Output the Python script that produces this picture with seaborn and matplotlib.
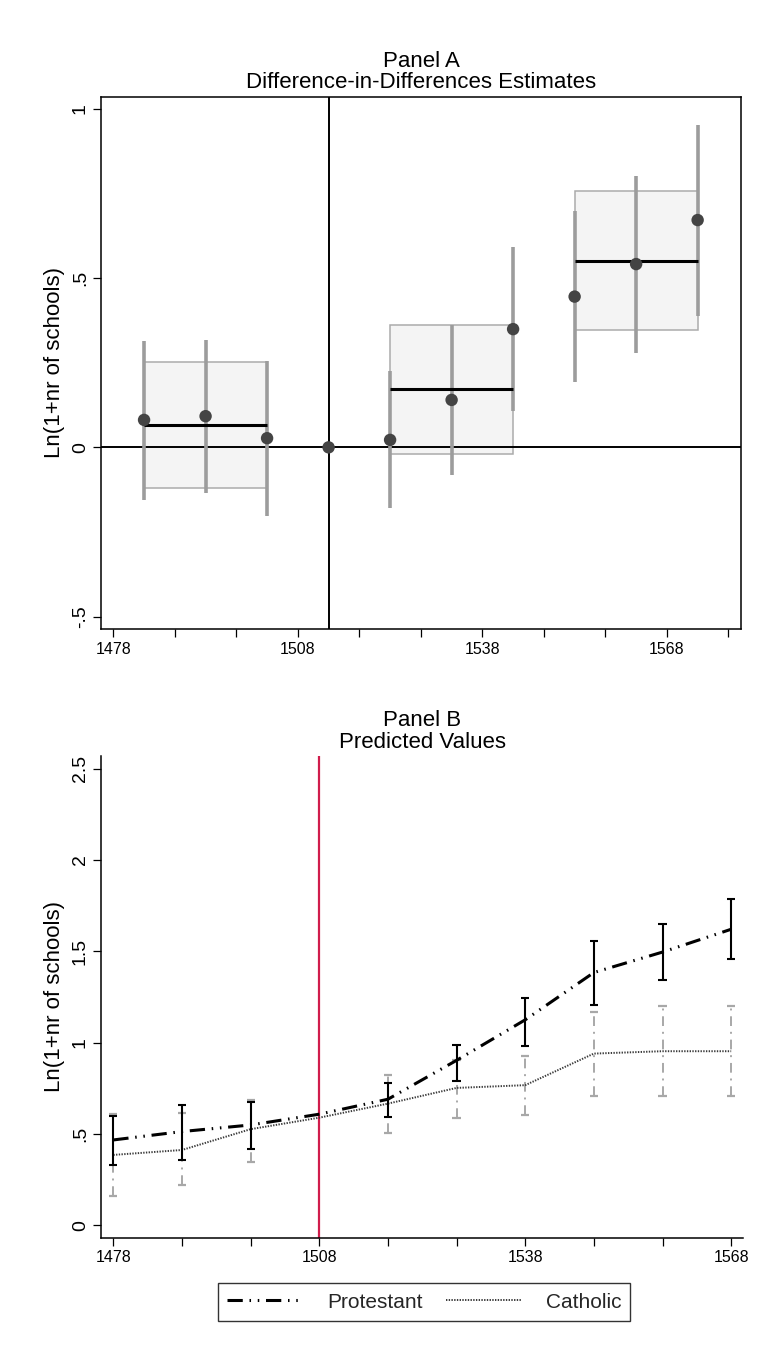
import numpy as np
import pandas as pd
import matplotlib
matplotlib.use("Agg")
import matplotlib.pyplot as plt
import seaborn as sns
from matplotlib.lines import Line2D
from matplotlib.patches import Rectangle

sns.set_theme(style="white")
plt.rcParams['font.family'] = ['Liberation Sans', 'DejaVu Sans']

# ---------------- Panel A data ----------------
yearsA = [1483, 1493, 1503, 1513, 1523, 1533, 1543, 1553, 1563, 1573]
coefA = [0.081, 0.092, 0.027, 0.0, 0.022, 0.140, 0.349, 0.445, 0.541, 0.671]
ciA_lo = [-0.156, -0.134, -0.203, np.nan, -0.180, -0.082, 0.108, 0.192, 0.279, 0.389]
ciA_hi = [0.314, 0.317, 0.256, np.nan, 0.225, 0.361, 0.592, 0.698, 0.801, 0.951]
grp_start = [1483, 1523, 1553]
grp_end = [1503, 1543, 1573]
grp_mean = [0.066, 0.171, 0.550]
grp_lo = [-0.119, -0.020, 0.346]
grp_hi = [0.251, 0.360, 0.758]
ref_year_A = 1513

# ---------------- Panel B data ----------------
yearsB = [1478, 1488, 1498, 1508, 1518, 1528, 1538, 1548, 1558, 1568]
prot = [0.467, 0.513, 0.549, 0.608, 0.690, 0.903, 1.125, 1.384, 1.496, 1.621]
prot_lo = [0.330, 0.358, 0.418, np.nan, 0.595, 0.791, 0.983, 1.205, 1.341, 1.457]
prot_hi = [0.599, 0.660, 0.674, np.nan, 0.781, 0.989, 1.246, 1.556, 1.651, 1.789]
cath = [0.385, 0.412, 0.526, 0.589, 0.666, 0.752, 0.767, 0.940, 0.953, 0.953]
cath_lo = [0.159, 0.220, 0.348, np.nan, 0.507, 0.586, 0.606, 0.705, 0.705, 0.705]
cath_hi = [0.608, 0.613, 0.686, np.nan, 0.821, 0.903, 0.929, 1.168, 1.203, 1.203]
ref_year_B = 1508

xtick_labels = [1478, 1508, 1538, 1568]

fig = plt.figure(figsize=(7.67, 13.57), dpi=100)
fig.patch.set_facecolor('white')

XTICK_FS = 11.5
YTICK_FS = 14
LAB_FS = 16
TITLE_FS = 16

def style_axes(ax):
    ax.tick_params(axis='both', which='both', direction='out', length=6, width=0.9,
                   color='black', labelcolor='black', pad=3, bottom=True, left=True)
    ax.tick_params(axis='x', labelsize=XTICK_FS)
    ax.tick_params(axis='y', labelsize=YTICK_FS)
    for lab in ax.get_yticklabels():
        lab.set_rotation(90)
        lab.set_va('center')

# ---------------- Panel A ----------------
axA = fig.add_axes([0.1321, 0.5363, 0.8336, 0.3924])
axA.set_facecolor('white')
for k in range(len(grp_start)):
    axA.add_patch(Rectangle((grp_start[k], grp_lo[k]), grp_end[k] - grp_start[k],
                            grp_hi[k] - grp_lo[k], facecolor='#f4f4f4',
                            edgecolor='#ababab', lw=1.1, zorder=1))
axA.axhline(0, color='black', lw=1.4, zorder=2)
axA.axvline(ref_year_A, color='black', lw=1.4, zorder=2)
for k in range(len(grp_start)):
    axA.plot([grp_start[k], grp_end[k]], [grp_mean[k], grp_mean[k]],
             color='black', lw=2.2, zorder=4, solid_capstyle='butt')
axA.vlines(yearsA, ciA_lo, ciA_hi, color='#9c9c9c', lw=2.6, zorder=3)
dfA = pd.DataFrame({'year': yearsA, 'coef': coefA})
sns.scatterplot(data=dfA, x='year', y='coef', ax=axA, color='#444444', s=80,
                edgecolor='none', zorder=5, legend=False)
axA.set_xlim(1476.05, 1580.0)
axA.set_ylim(-0.537, 1.035)
axA.set_xticks(xtick_labels)
axA.set_xticklabels([str(v) for v in xtick_labels])
axA.set_xticks(np.arange(1488, 1580, 10), minor=True)
axA.set_yticks([-0.5, 0, 0.5, 1])
axA.set_yticklabels(['-.5', '0', '.5', '1'])
axA.set_xlabel('')
axA.set_ylabel('Ln(1+nr of schools)', fontsize=LAB_FS, color='black', labelpad=5)
axA.set_title('Panel A\nDifference-in-Differences Estimates', fontsize=TITLE_FS,
              color='black', pad=6, linespacing=1.05)
for sp in axA.spines.values():
    sp.set_visible(True)
    sp.set_color('black')
    sp.set_linewidth(1.1)
style_axes(axA)

# ---------------- Panel B ----------------
axB = fig.add_axes([0.1321, 0.0877, 0.8364, 0.3552])
axB.set_facecolor('white')
axB.axvline(ref_year_B, color='#d01c4b', lw=1.6, zorder=1)
dfB = pd.DataFrame({'year': yearsB * 2,
                    'value': prot + cath,
                    'group': ['Protestant'] * len(yearsB) + ['Catholic'] * len(yearsB)})
sns.lineplot(data=dfB[dfB.group == 'Catholic'], x='year', y='value', ax=axB,
             color='#3a3a3a', lw=1.4, legend=False, zorder=3)
sns.lineplot(data=dfB[dfB.group == 'Protestant'], x='year', y='value', ax=axB,
             color='black', lw=2.2, legend=False, zorder=4)
cath_line, prot_line = axB.lines[-2], axB.lines[-1]
cath_line.set_dashes((0.7, 0.7))
prot_line.set_dashes((5.0, 2.2, 0.5, 2.2, 0.5, 2.2))

yB = np.array(yearsB, dtype=float)
cl, ch = np.array(cath_lo), np.array(cath_hi)
pl, ph = np.array(prot_lo), np.array(prot_hi)
axB.vlines(yB, cl, ch, color='#a8a8a8', lw=1.4, linestyles=[(0, (5, 3, 1, 3))], zorder=2)
cw = 0.6
axB.hlines(cl, yB - cw, yB + cw, color='#a8a8a8', lw=1.6, zorder=2)
axB.hlines(ch, yB - cw, yB + cw, color='#a8a8a8', lw=1.6, zorder=2)
axB.vlines(yB, pl, ph, color='black', lw=1.5, zorder=5)
axB.hlines(pl, yB - cw, yB + cw, color='black', lw=1.5, zorder=5)
axB.hlines(ph, yB - cw, yB + cw, color='black', lw=1.5, zorder=5)

axB.set_xlim(1476.25, 1569.7)
axB.set_ylim(-0.07, 2.57)
axB.set_xticks(xtick_labels)
axB.set_xticklabels([str(v) for v in xtick_labels])
axB.set_xticks(np.arange(1488, 1570, 10), minor=True)
axB.set_yticks([0, 0.5, 1, 1.5, 2, 2.5])
axB.set_yticklabels(['0', '.5', '1', '1.5', '2', '2.5'])
axB.set_xlabel('')
axB.set_ylabel('Ln(1+nr of schools)', fontsize=LAB_FS, color='black', labelpad=5)
axB.set_title('Panel B\nPredicted Values', fontsize=TITLE_FS, color='black', pad=6,
              linespacing=1.05)
for side in ['top', 'right']:
    axB.spines[side].set_visible(False)
for side in ['left', 'bottom']:
    axB.spines[side].set_visible(True)
    axB.spines[side].set_color('black')
    axB.spines[side].set_linewidth(1.1)
style_axes(axB)

handles = [Line2D([0], [0], color='black', lw=2.2, dashes=(5.0, 2.2, 0.5, 2.2, 0.5, 2.2)),
           Line2D([0], [0], color='#3a3a3a', lw=1.4, dashes=(0.7, 0.7))]
leg = fig.legend(handles, ['Protestant', 'Catholic'], loc='center',
                 bbox_to_anchor=(0.553, 0.0405), ncol=2, frameon=True, fancybox=False,
                 fontsize=15, handlelength=3.6, columnspacing=1.1, handletextpad=1.2,
                 borderpad=0.45, borderaxespad=0.0)
leg.get_frame().set_edgecolor('black')
leg.get_frame().set_linewidth(1.0)

fig.savefig('out.png', dpi=100, facecolor='white')
